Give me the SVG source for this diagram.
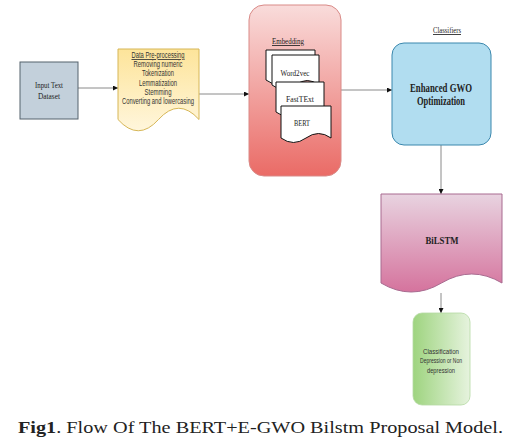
<svg xmlns="http://www.w3.org/2000/svg" width="521" height="446" viewBox="0 0 521 446">
<style>
.serif{font-family:"Liberation Serif","Times New Roman",serif;fill:#222;}
.sans{font-family:"Liberation Sans",Arial,sans-serif;fill:#333;}
.edge{stroke:#8a8a8a;stroke-width:1;fill:none;marker-end:url(#arr);}
.doc{fill:#fff;stroke:#111;stroke-width:1;}
</style>
<defs>
<marker id="arr" viewBox="0 0 6 6" refX="6" refY="3" markerWidth="5" markerHeight="5" orient="auto" markerUnits="userSpaceOnUse">
<path d="M0,0 L6,3 L0,6 z" fill="#111"/>
</marker>
<linearGradient id="gYel" x1="0" y1="0" x2="0" y2="1">
<stop offset="0" stop-color="#fde49a"/><stop offset="1" stop-color="#fff6dc"/>
</linearGradient>
<linearGradient id="gRed" x1="0" y1="0" x2="0" y2="1">
<stop offset="0" stop-color="#f9dcdb"/><stop offset="1" stop-color="#ea6b66"/>
</linearGradient>
<linearGradient id="gPink" x1="0" y1="0" x2="0" y2="1">
<stop offset="0" stop-color="#e8d3e0"/><stop offset="1" stop-color="#d5739d"/>
</linearGradient>
<linearGradient id="gGreen" x1="0" y1="0" x2="1" y2="0">
<stop offset="0" stop-color="#9ed47f"/><stop offset="1" stop-color="#e6f3de"/>
</linearGradient>
</defs>

<g id="connectors">
<path class="edge" d="M78,88 H118"/>
<path class="edge" d="M199,94 H249"/>
<path class="edge" d="M341,90 H392"/>
<path class="edge" d="M441,145 V194"/>
<path class="edge" d="M441,293 V313"/>
</g>

<g id="input">
<rect x="20" y="62" width="58" height="57" fill="#c3d0db" stroke="#55626c" stroke-width="1"/>
<text class="serif" font-size="8.5" text-anchor="middle" x="49" y="87.5" textLength="28" lengthAdjust="spacingAndGlyphs">Input Text</text>
<text class="serif" font-size="8.5" text-anchor="middle" x="49" y="98.5" textLength="22" lengthAdjust="spacingAndGlyphs">Dataset</text>
</g>

<g id="preprocessing">
<path d="M118,49 H199 V119.5 Q178.75,97 158.5,119.5 Q138.25,142 118,119.5 Z" fill="url(#gYel)" stroke="#d6b656" stroke-width="1"/>
<text class="sans" font-size="8.5" text-anchor="middle" x="158" y="58" textLength="53" lengthAdjust="spacingAndGlyphs" text-decoration="underline">Data Pre-processing</text>
<text class="sans" font-size="8.5" text-anchor="middle" x="158" y="67" textLength="49" lengthAdjust="spacingAndGlyphs">Removing numeric</text>
<text class="sans" font-size="8.5" text-anchor="middle" x="158" y="76" textLength="32" lengthAdjust="spacingAndGlyphs">Tokenization</text>
<text class="sans" font-size="9" text-anchor="middle" x="158" y="86" textLength="38" lengthAdjust="spacingAndGlyphs" fill="#111">Lemmatization</text>
<text class="sans" font-size="9" text-anchor="middle" x="158" y="95" textLength="27" lengthAdjust="spacingAndGlyphs" fill="#111">Stemming</text>
<text class="sans" font-size="9" text-anchor="middle" x="158" y="104" textLength="72" lengthAdjust="spacingAndGlyphs" fill="#111">Converting and lowercasing</text>
</g>

<g id="embedding">
<rect x="249" y="5" width="92" height="171" rx="15" ry="15" fill="url(#gRed)" stroke="#d98a87" stroke-width="1"/>
<text class="serif" font-size="8.5" text-anchor="middle" x="288" y="44" textLength="32" lengthAdjust="spacingAndGlyphs" text-decoration="underline">Embedding</text>
<path class="doc" d="M266,50 H315 V80 Q302.75,71 290.5,80 Q278.25,89 266,80 Z"/>
<path class="doc" d="M272,55 H319 V85 Q307.25,76 295.5,85 Q283.75,94 272,85 Z"/>
<text class="serif" font-size="8.5" text-anchor="middle" x="295" y="76" textLength="29" lengthAdjust="spacingAndGlyphs">Word2vec</text>
<path class="doc" d="M276,82 H324 V112 Q312,103 300,112 Q288,121 276,112 Z"/>
<text class="serif" font-size="8.5" text-anchor="middle" x="300" y="102" textLength="28" lengthAdjust="spacingAndGlyphs">FastTExt</text>
<path class="doc" d="M281,106 H331 V138 Q318.5,129 306,138 Q293.5,147 281,138 Z"/>
<text class="serif" font-size="8.5" text-anchor="middle" x="302" y="126" textLength="16" lengthAdjust="spacingAndGlyphs">BERT</text>
</g>

<g id="classifiers-label">
<text class="serif" font-size="8.5" text-anchor="middle" x="447" y="33" textLength="28" lengthAdjust="spacingAndGlyphs" text-decoration="underline">Classifiers</text>
</g>

<g id="gwo">
<rect x="392" y="43" width="99" height="102" rx="12" ry="12" fill="#b1ddf0" stroke="#3a87ad" stroke-width="1"/>
<text class="serif" font-size="11.5" font-weight="bold" text-anchor="middle" x="441" y="92" textLength="62" lengthAdjust="spacingAndGlyphs">Enhanced GWO</text>
<text class="serif" font-size="11.5" font-weight="bold" text-anchor="middle" x="441" y="105" textLength="48" lengthAdjust="spacingAndGlyphs">Optimization</text>
</g>

<g id="bilstm">
<path d="M381,194 H502 V283 Q471.75,265 441.5,283 Q411.25,301 381,283 Z" fill="url(#gPink)" stroke="#a86b90" stroke-width="1"/>
<text class="serif" font-size="10.5" font-weight="bold" text-anchor="middle" x="442" y="244" textLength="33" lengthAdjust="spacingAndGlyphs">BiLSTM</text>
</g>

<g id="classification">
<rect x="413" y="313" width="57" height="92" rx="9" ry="9" fill="url(#gGreen)" stroke="#b5d9a3" stroke-width="0.8"/>
<text class="sans" font-size="7.5" text-anchor="middle" x="441" y="353.5" textLength="36" lengthAdjust="spacingAndGlyphs">Classification</text>
<text class="sans" font-size="7.5" text-anchor="middle" x="441" y="363" textLength="42" lengthAdjust="spacingAndGlyphs">Depression or Non</text>
<text class="sans" font-size="7.5" text-anchor="middle" x="441" y="372.5" textLength="28" lengthAdjust="spacingAndGlyphs">depression</text>
</g>

<g id="caption">
<text class="serif" font-size="17" x="18" y="433" textLength="485" lengthAdjust="spacingAndGlyphs" fill="#000"><tspan font-weight="bold">Fig1</tspan>. Flow Of The BERT+E-GWO Bilstm Proposal Model.</text>
</g>
</svg>
